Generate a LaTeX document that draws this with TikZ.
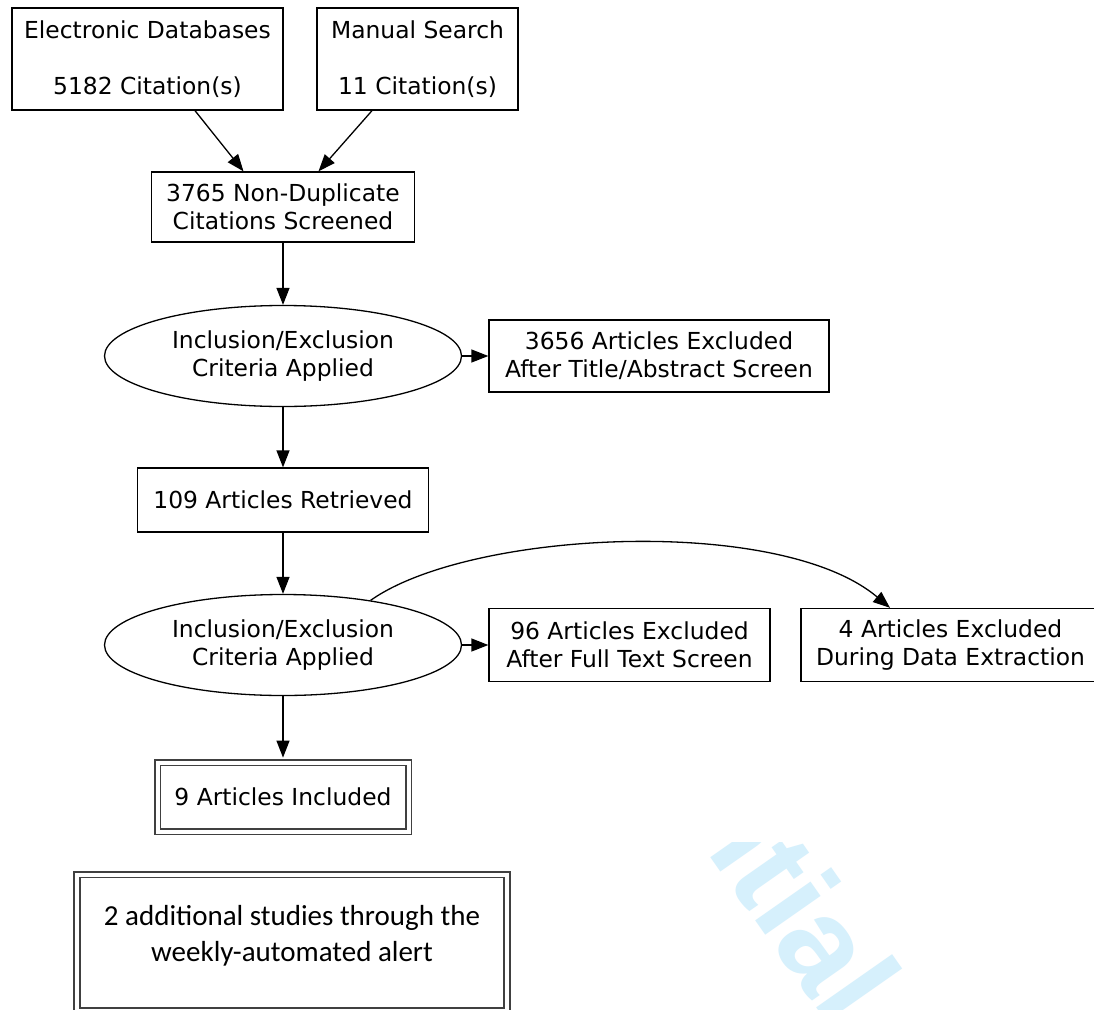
\documentclass[tikz,border=0pt]{standalone}
\usepackage{fontspec}
\setmainfont{DejaVu Sans}
\newfontfamily\carlito{Carlito}
\newfontfamily\wmfont{Liberation Sans}
\usetikzlibrary{shapes.geometric,arrows.meta}
\definecolor{wmblue}{RGB}{214,240,252}
\begin{document}
\begin{tikzpicture}[x=1pt,y=-1pt,
  every node/.style={font=\fontsize{23.4}{28}\selectfont, align=center, inner sep=0pt},
  box/.style={draw, line width=1.3pt, rectangle},
  oval/.style={draw, line width=1.3pt, ellipse, minimum width=357pt, minimum height=101pt},
  dbox/.style={draw=black!75, line width=1.8pt, double, double distance=4pt},
  arr/.style={-{Triangle[length=17pt,width=13pt]}, line width=1.3pt},
]
\useasboundingbox (0,0) rectangle (1094,1009);
\fill[white] (0,0) rectangle (1094,1009);

% watermark fragment
\begin{scope}
\clip (0,842) rectangle (1094,1009);
\node[font=\wmfont\bfseries\fontsize{128}{128}\selectfont, text=wmblue, rotate=-55, anchor=base east, align=left] (wm) at (832,1030) {Confidential};
\end{scope}

\node[box, minimum width=271pt, minimum height=102pt] (edb) at (147.5,59) {Electronic Databases\\\mbox{}\\5182 Citation(s)};
\node[box, minimum width=201pt, minimum height=102pt] (man) at (417.5,59) {Manual Search\\\mbox{}\\11 Citation(s)};
\node[box, minimum width=263pt, minimum height=70pt] (dup) at (283,207) {3765 Non-Duplicate\\Citations Screened};
\node[oval] (c1) at (283,356) {Inclusion/Exclusion\\Criteria Applied};
\node[box, minimum width=340pt, minimum height=72pt] (x1) at (659,356) {3656 Articles Excluded\\After Title/Abstract Screen};
\node[box, minimum width=291pt, minimum height=64pt] (ret) at (283,500) {109 Articles Retrieved};
\node[oval] (c2) at (283,645) {Inclusion/Exclusion\\Criteria Applied};
\node[box, minimum width=281pt, minimum height=73pt] (x2) at (629.5,645) {96 Articles Excluded\\After Full Text Screen};
\node[box, minimum width=299pt, minimum height=73pt] (x3) at (950.5,645) {4 Articles Excluded\\During Data Extraction};
\node[dbox, minimum width=251pt, minimum height=69pt] (inc) at (283,797) {9 Articles Included};

\node[dbox, minimum width=429.5pt, minimum height=136.5pt] (alert) at (292,942.75) {};
\node[font=\carlito\fontsize{29}{36}\selectfont] (alerttext) at (292,936) {2 additional studies through the\\weekly-automated alert};

\draw[arr] ([xshift=47.5pt]edb.south) -- ([xshift=-39.5pt]dup.north);
\draw[arr] ([xshift=-45.5pt]man.south) -- ([xshift=35.5pt]dup.north);
\draw[arr] (dup.south) -- (c1.north);
\draw[arr] (c1.east) -- (x1.west);
\draw[arr] (c1.south) -- (ret.north);
\draw[arr] (ret.south) -- (c2.north);
\draw[arr] (c2.east) -- (x2.west);
\draw[arr] (c2.27) .. controls (470,530) and (780,515) .. ([xshift=-60.5pt]x3.north);
\draw[arr] (c2.south) -- ([yshift=4pt]inc.north);
\end{tikzpicture}
\end{document}
